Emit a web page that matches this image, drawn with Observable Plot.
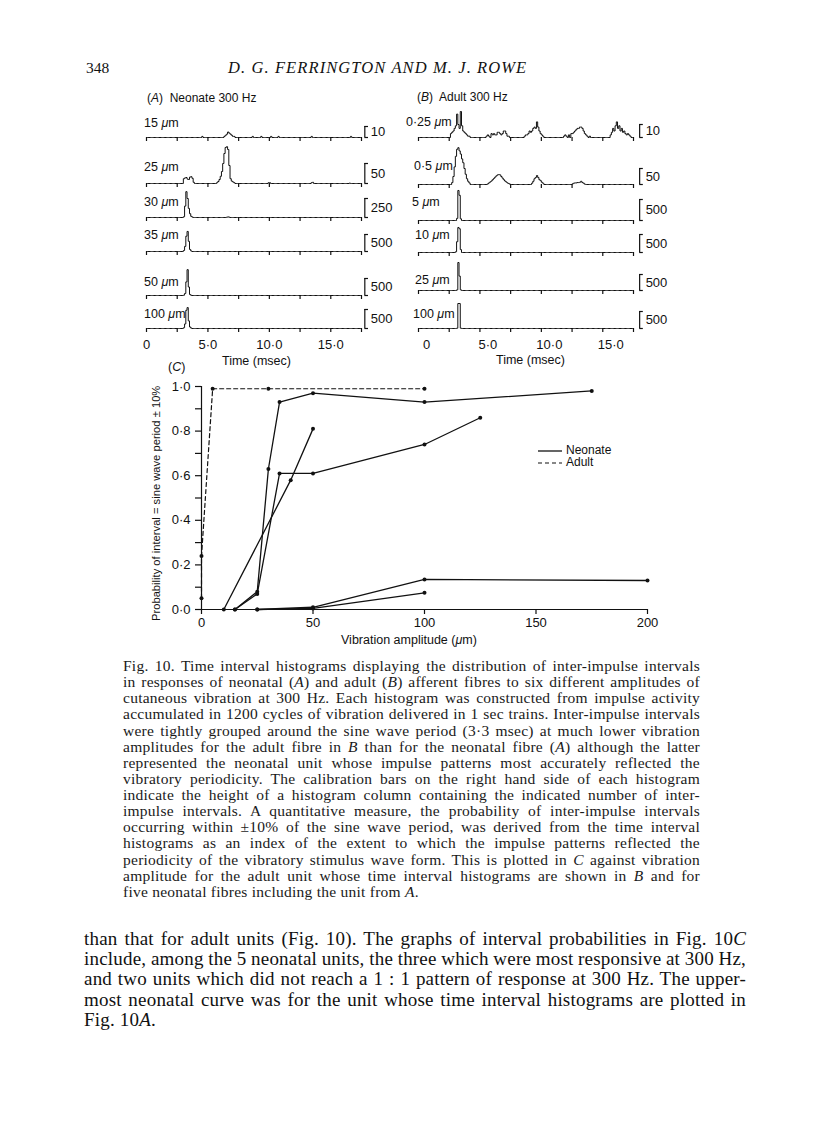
<!DOCTYPE html>
<html><head><meta charset="utf-8">
<script src="https://cdn.jsdelivr.net/npm/d3@7"></script>
<script src="https://cdn.jsdelivr.net/npm/@observablehq/plot@0.6"></script>
<style>
body{margin:0;background:#fff;}
#page{position:relative;width:816px;height:1145px;overflow:hidden;background:#fff;font-family:"Liberation Sans",Arial,sans-serif;color:#111;}
.abs{position:absolute;white-space:nowrap;line-height:1;}
.pl{position:absolute;}
.pl svg{overflow:visible;}
.cap{position:absolute;left:123px;font-family:"Liberation Serif",serif;font-size:15.5px;line-height:16px;white-space:nowrap;color:#1a1a1a;}
.body{position:absolute;left:84px;font-family:"Liberation Serif",serif;font-size:19px;line-height:20px;white-space:nowrap;color:#111;}
</style></head>
<body><div id="page"></div>
<script>
// ---------- Data: panel A (neonate 300 Hz) ----------
const aLabels = ["15 μm","25 μm","30 μm","35 μm","50 μm","100 μm"];
const aCal = [10,50,250,500,500,500];
const a15 = [[4.5,1],[6.3,1],[6.4,2],[6.5,3],[6.6,5],[6.7,4],[6.8,3],[6.9,2],[7.0,1],[7.1,1],[8.6,1],[9.3,1],[10.1,1],[10.7,1],[13.4,1],[16.6,1]];
const a25 = [[3.0,12],[3.1,14],[3.2,15],[3.3,11],[3.4,10],[3.5,16],[3.6,17],[3.7,13],[3.8,3],[5.7,2],[5.8,5],[5.9,10],[6.0,18],[6.1,30],[6.2,50],[6.3,75],[6.4,90],[6.5,92],[6.6,85],[6.7,45],[6.8,12],[6.9,6],[7.0,4],[7.1,2],[9.9,2],[10.0,2],[13.4,2],[13.5,3],[16.5,1]];
const a30 = [[3.0,10],[3.1,150],[3.2,340],[3.3,250],[3.4,120],[3.5,50],[3.6,15],[3.7,5],[6.5,4],[6.6,8],[6.7,4]];
const a35 = [[3.0,30],[3.1,150],[3.2,450],[3.3,590],[3.4,300],[3.5,60],[3.6,15]];
const a50 = [[3.0,10],[3.1,60],[3.2,400],[3.3,760],[3.4,250],[3.5,30],[3.6,5]];
const a100 = [[3.0,20],[3.1,120],[3.2,480],[3.3,550],[3.4,200],[3.5,40],[3.6,10]];

// ---------- Data: panel B (adult 300 Hz) ----------
const bLabels = ["0·25 μm","0·5 μm","5 μm","10 μm","25 μm","100 μm"];
const bCal = [10,50,500,500,500,500];
const b025 = [[2.6,3],[2.7,4],[2.8,5],[2.9,7],[3.0,9],[3.1,18],[3.2,10],[3.3,7],[3.4,20],[3.5,9],[3.6,5],[3.7,4],[3.8,3],[3.9,2],[4.0,1],[4.1,1],
  [5.5,1],[5.6,2],[5.7,1],[5.9,3],[6.0,2],[6.1,3],[6.2,2],[6.3,2],[6.4,4],[6.5,4],[6.6,3],[6.7,2],[6.8,3],[6.9,5],[7.0,5],[7.1,3],[7.2,1],[7.3,1],
  [8.6,1],[8.7,2],[8.8,2],[8.9,3],[9.0,5],[9.1,4],[9.2,5],[9.3,7],[9.4,8],[9.5,7],[9.6,12],[9.7,8],[9.8,5],[9.9,3],[10.0,2],[10.1,1],
  [11.8,1],[11.9,2],[12.0,1],[12.2,2],[12.4,3],[12.5,3],[12.6,4],[12.7,5],[12.8,6],[12.9,7],[13.0,7],[13.1,8],[13.2,8],[13.3,7],[13.4,5],[13.5,3],[13.6,2],[13.7,1],[13.9,1],
  [15.6,2],[15.7,4],[15.8,7],[15.9,5],[16.0,9],[16.1,12],[16.2,7],[16.3,9],[16.4,5],[16.5,7],[16.6,4],[16.7,5],[16.8,3],[16.9,2],[17.0,3],[17.1,2],[17.2,1]];
const b05 = [[2.7,6],[2.8,25],[2.9,55],[3.0,88],[3.1,110],[3.2,115],[3.3,105],[3.4,95],[3.5,80],[3.6,68],[3.7,50],[3.8,32],[3.9,18],[4.0,10],[4.1,5],
  [5.6,2],[5.7,5],[5.8,8],[5.9,11],[6.0,15],[6.1,19],[6.2,23],[6.3,27],[6.4,30],[6.5,31],[6.6,30],[6.7,25],[6.8,20],[6.9,15],[7.0,11],[7.1,8],[7.2,5],[7.3,3],[7.4,1],
  [9.2,4],[9.3,10],[9.4,18],[9.5,22],[9.6,28],[9.7,22],[9.8,15],[9.9,12],[10.0,7],[10.1,4],
  [12.5,2],[12.6,4],[12.7,5],[12.8,5],[12.9,6],[13.0,6],[13.1,7],[13.2,10],[13.3,6],[13.4,4],[13.5,1]];
const b5 = [[3.1,50],[3.2,715],[3.3,600],[3.4,40]];
const b10 = [[3.0,20],[3.1,300],[3.2,695],[3.3,660],[3.4,80]];
const b25 = [[3.1,20],[3.2,875],[3.3,450],[3.4,20]];
const b100 = [[3.1,10],[3.2,735],[3.3,735],[3.4,10]];

const timeTicks = [0,2.5,5,7.5,10,12.5,15,17.5];
const timeLabels = [0,5,10,15];

// ---------- Data: panel C ----------
const adultX = [0,0,5,30,100];
const adultY = [0.05,0.24,0.99,0.99,0.99];
const n1X = [15,25,30,35,50,100,175];
const n1Y = [0,0.08,0.63,0.93,0.97,0.93,0.98];
const n2X = [10,40,50];
const n2Y = [0,0.58,0.81];
const n3X = [15,25,35,50,100,125];
const n3Y = [0,0.07,0.61,0.61,0.74,0.86];
const n4X = [25,50,100,200];
const n4Y = [0,0.01,0.135,0.13];
const n5X = [25,50,100];
const n5Y = [0,0.005,0.075];
const ampTicks = [0,50,100,150,200];
const probTicks = [0,0.2,0.4,0.6,0.8,1.0];
const probMinor = [0.1,0.3,0.5,0.7,0.9];

// ---------- Layout ----------
const page = document.getElementById("page");
const FONT = "'Liberation Sans', Arial, sans-serif";
function addText(html, left, cy, size, extra = "") {
  const d = document.createElement("div");
  d.className = "abs";
  d.style.left = left + "px";
  d.style.top = (cy - size * 0.55) + "px";
  d.style.fontSize = size + "px";
  d.style.cssText += extra;
  d.innerHTML = html;
  page.appendChild(d);
  return d;
}
const dotFmt = d => d === 0 ? "0" : d.toFixed(1).replace(".", "·");

function histPlot(bins, cal, calPx, xCal, bottom, labelDx) {
  const m = new Map(bins.map(([t, c]) => [Math.round(t * 10), c]));
  const series = d3.range(0, 176).map(i => ({t: i / 10, c: i < 175 ? (m.get(i) ?? 0) : 0}));
  const inner = 42;
  const H = bottom ? 62 : 50;
  const marks = [
    Plot.line(series, {x: "t", y: "c", curve: "step-after", stroke: "#111", strokeWidth: 1}),
    Plot.axisX({ticks: timeTicks, tickSize: 4, tickFormat: () => "", label: null, strokeWidth: 1.2}),
    Plot.ruleX([cal], {x: () => xCal, y1: 0, y2: d => d, stroke: "#111", strokeWidth: 1.2}),
    Plot.ruleY([0, cal], {y: d => d, x1: () => xCal, x2: () => xCal + 0.3, stroke: "#111", strokeWidth: 1.2}),
    Plot.text([cal], {x: () => xCal, y: d => d / 2, text: d => String(d), dx: 6, textAnchor: "start", fontSize: 13, fill: "#111"})
  ];
  if (bottom) {
    marks.push(Plot.axisX({ticks: timeLabels, tickSize: 0, tickPadding: 11, tickFormat: dotFmt, label: null, fontSize: 13, dx: labelDx}));
  }
  return Plot.plot({
    width: 270, height: H, marginLeft: 16, marginRight: 39, marginTop: 0, marginBottom: H - inner,
    x: {domain: [0, 17.5]},
    y: {domain: [0, cal * inner / calPx], axis: null},
    style: {background: "transparent", fontFamily: FONT, fontSize: "13px", color: "#111", overflow: "visible"},
    marks
  });
}
function place(el, left, top) {
  const w = document.createElement("div");
  w.className = "pl";
  w.style.left = left + "px";
  w.style.top = top + "px";
  w.appendChild(el);
  page.appendChild(w);
}

// Header
addText("348", 86, 69, 15.5, "font-family:'Liberation Serif',serif;");
addText("D. G. FERRINGTON AND M. J. ROWE", 228, 69, 16.5, "font-family:'Liberation Serif',serif;font-style:italic;letter-spacing:1.1px;");

// Panel A
const aBins = [a15, a25, a30, a35, a50, a100];
const aBase = [137, 183, 217, 251, 295, 328];
const aCalPx = [11, 20, 19, 17, 17, 19];
const aLabY = [124, 168, 203, 236, 283, 315];
addText("(<i>A</i>)&nbsp; Neonate 300 Hz", 147, 99, 12);
aBins.forEach((b, i) => {
  place(histPlot(b, aCal[i], aCalPx[i], 17.77, i === 5, 0), 130, aBase[i] - 42);
  addText(aLabels[i].replace("μ", "<i>μ</i>"), 144, aLabY[i], 12.5);
});
addText("Time (msec)", 222, 362, 12.5);

// Panel B
const bBins = [b025, b05, b5, b10, b25, b100];
const bBase = [137, 184, 220, 252, 290, 328];
const bCalPx = [13, 16, 21, 18, 16, 17];
const bLabY = [123, 167, 203, 236, 281, 315];
const bLabR = [452, 453, 440, 450, 450, 455];
addText("(<i>B</i>)&nbsp; Adult 300 Hz", 417, 98, 12);
bBins.forEach((b, i) => {
  place(histPlot(b, bCal[i], bCalPx[i], 18.0, i === 5, 8), 402, bBase[i] - 42);
  const t = addText(bLabels[i].replace("μ", "<i>μ</i>"), 0, bLabY[i], 12.5);
  t.style.left = (bLabR[i] - t.offsetWidth) + "px";
});
addText("Time (msec)", 496, 361, 12.5);

// Panel C
const cData = [];
[[n1X, n1Y, "n1"], [n2X, n2Y, "n2"], [n3X, n3Y, "n3"], [n4X, n4Y, "n4"], [n5X, n5Y, "n5"]].forEach(([xs, ys, k]) =>
  xs.forEach((x, i) => cData.push({unit: k, amp: x, p: ys[i]})));
const adultData = adultX.map((x, i) => ({unit: "adult", amp: x, p: adultY[i]}));
const cPlot = Plot.plot({
  width: 530, height: 290, marginLeft: 71, marginRight: 13, marginTop: 16, marginBottom: 51,
  x: {domain: [0, 200]},
  y: {domain: [0, 1]},
  style: {background: "transparent", fontFamily: FONT, fontSize: "13px", color: "#111", overflow: "visible"},
  marks: [
    Plot.ruleX([0], {stroke: "#111", strokeWidth: 1.2}),
    Plot.ruleY([0], {stroke: "#111", strokeWidth: 1.2}),
    Plot.axisY({ticks: probTicks, tickSize: 6, tickPadding: 5, tickFormat: d => d.toFixed(1).replace(".", "·"), label: null, strokeWidth: 1.2}),
    Plot.axisY({ticks: probMinor, tickSize: 6, tickFormat: () => "", label: null, strokeWidth: 1.2}),
    Plot.axisX({ticks: ampTicks, tickSize: 5, tickPadding: 3, tickFormat: d => String(d), label: null, strokeWidth: 1.2}),
    Plot.line(cData, {x: "amp", y: "p", z: "unit", stroke: "#111", strokeWidth: 1.3}),
    Plot.line(adultData, {x: "amp", y: "p", stroke: "#111", strokeWidth: 1.2, strokeDasharray: "4,3"}),
    Plot.dot(cData.concat(adultData), {x: "amp", y: "p", r: 2, fill: "#111", stroke: null})
  ]
});
place(cPlot, 130, 370);
addText("(<i>C</i>)", 168, 368, 12.5);
const yl = addText("Probability of interval = sine wave period ± 10%", 0, 0, 11.2, "transform-origin:0 0;");
yl.style.left = "151px";
yl.style.top = (503 + yl.offsetWidth / 2) + "px";
yl.style.transform = "rotate(-90deg)";
addText("Vibration amplitude (<i>μ</i>m)", 341, 641, 12.5);
// legend
page.insertAdjacentHTML("beforeend",
  `<svg style="position:absolute;left:536px;top:444px" width="30" height="26"><line x1="2" x2="26" y1="7" y2="7" stroke="#111" stroke-width="1.3"/><line x1="2" x2="26" y1="19" y2="19" stroke="#111" stroke-width="1.2" stroke-dasharray="4,3"/></svg>`);
addText("Neonate", 566, 451, 12);
addText("Adult", 566, 463, 12);

// Justified text lines: spread the spare width over letters and word gaps
function textLines(lines, cls, top0, step, width, ls) {
  lines.forEach((s, i) => {
    const d = document.createElement("div");
    d.className = cls;
    d.style.top = (top0 + i * step) + "px";
    d.innerHTML = s;
    page.appendChild(d);
    const n = d.textContent.length;
    d.style.letterSpacing = ls + "px";
    if (i < lines.length - 1) {
      const w = d.getBoundingClientRect().width;
      const spaces = (d.textContent.match(/ /g) || []).length;
      if (spaces) d.style.wordSpacing = ((width - w) / spaces) + "px";
    }
  });
}
const capLines = [
  "Fig. 10. Time interval histograms displaying the distribution of inter-impulse intervals",
  "in responses of neonatal (<i>A</i>) and adult (<i>B</i>) afferent fibres to six different amplitudes of",
  "cutaneous vibration at 300 Hz. Each histogram was constructed from impulse activity",
  "accumulated in 1200 cycles of vibration delivered in 1 sec trains. Inter-impulse intervals",
  "were tightly grouped around the sine wave period (3·3 msec) at much lower vibration",
  "amplitudes for the adult fibre in <i>B</i> than for the neonatal fibre (<i>A</i>) although the latter",
  "represented the neonatal unit whose impulse patterns most accurately reflected the",
  "vibratory periodicity. The calibration bars on the right hand side of each histogram",
  "indicate the height of a histogram column containing the indicated number of inter-",
  "impulse intervals. A quantitative measure, the probability of inter-impulse intervals",
  "occurring within ±10% of the sine wave period, was derived from the time interval",
  "histograms as an index of the extent to which the impulse patterns reflected the",
  "periodicity of the vibratory stimulus wave form. This is plotted in <i>C</i> against vibration",
  "amplitude for the adult unit whose time interval histograms are shown in <i>B</i> and for",
  "five neonatal fibres including the unit from <i>A</i>."
];
textLines(capLines, "cap", 658, 16.13, 577, 0.25);
const bodyLines = [
  "than that for adult units (Fig. 10). The graphs of interval probabilities in Fig. 10<i>C</i>",
  "include, among the 5 neonatal units, the three which were most responsive at 300 Hz,",
  "and two units which did not reach a 1 : 1 pattern of response at 300 Hz. The upper-",
  "most neonatal curve was for the unit whose time interval histograms are plotted in",
  "Fig. 10<i>A</i>."
];
textLines(bodyLines, "body", 929, 20.2, 662, 0.2);
</script>
</body></html>
